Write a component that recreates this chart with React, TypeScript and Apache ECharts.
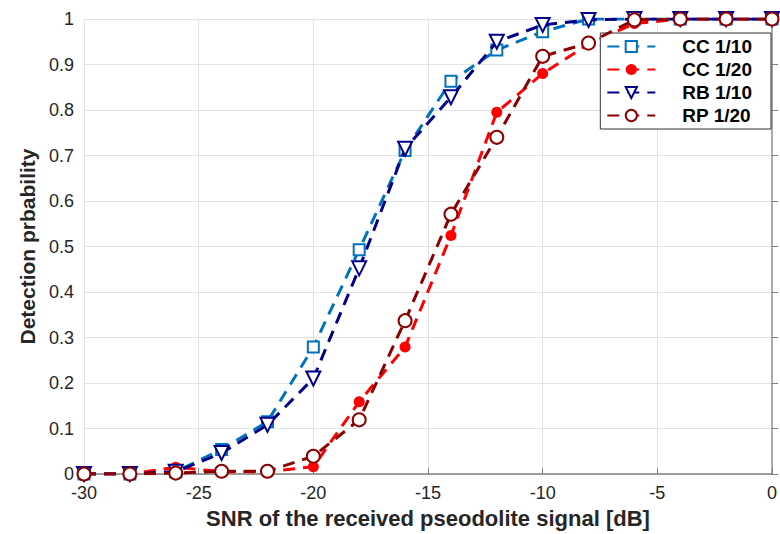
import React, { useEffect, useRef } from "react";
import * as echarts from "echarts";

const snr = [-30, -28, -26, -24, -22, -20, -18, -16, -14, -12, -10, -8, -6, -4, -2, 0];
const cc10 = [0, 0, 0.005, 0.054, 0.115, 0.279, 0.493, 0.711, 0.863, 0.932, 0.972, 1, 1, 1, 1, 1];
const cc20 = [0, 0, 0.015, 0.005, 0.005, 0.016, 0.159, 0.279, 0.524, 0.795, 0.88, 0.945, 0.99, 1, 1, 1];
const rb10 = [0, 0, 0.005, 0.046, 0.108, 0.21, 0.452, 0.715, 0.828, 0.95, 0.987, 0.998, 1, 1, 1, 1];
const rp20 = [0, 0, 0.002, 0.006, 0.006, 0.039, 0.119, 0.337, 0.571, 0.74, 0.918, 0.947, 0.998, 1, 1, 1];

const xTicks = [-30, -25, -20, -15, -10, -5, 0];
const yTicks = [0, 0.1, 0.2, 0.3, 0.4, 0.5, 0.6, 0.7, 0.8, 0.9, 1];

const names = ["CC 1/10", "CC 1/20", "RB 1/10", "RP 1/20"];

export default function App() {
  const ref = useRef<HTMLDivElement>(null);
  useEffect(() => {
    document.body.style.margin = "0";
    const chart = echarts.init(ref.current!, undefined, { renderer: "svg" });
    const pair = (arr: number[]) => snr.map((x, i) => [x, arr[i]]);
    const dash = [12, 8];
    const fontFamily = "Liberation Sans, Arial, sans-serif";
    chart.setOption({
      animation: false,
      backgroundColor: "#ffffff",
      grid: { left: 84, right: 5, top: 19, bottom: 56, containLabel: false },
      legend: {
        right: 9,
        top: 33,
        orient: "vertical",
        backgroundColor: "#ffffff",
        borderColor: "#333333",
        borderWidth: 1,
        borderRadius: 0,
        padding: [4, 19, 4, 6],
        itemGap: 4,
        itemWidth: 48,
        itemHeight: 14,
        textStyle: {
          fontFamily,
          fontWeight: "bold",
          fontSize: 19,
          lineHeight: 18,
          color: "#000",
          padding: [0, 0, 0, 22],
        },
        data: names,
      },
      xAxis: {
        type: "value",
        min: -30,
        max: 0,
        interval: 5,
        name: "SNR of the received pseodolite signal [dB]",
        nameLocation: "middle",
        nameGap: 33,
        nameTextStyle: { fontFamily, fontWeight: "bold", fontSize: 22, color: "#262626" },
        axisLine: { show: true, onZero: false, lineStyle: { color: "#808080", width: 1.5 } },
        axisTick: { show: true, inside: true, length: 6, lineStyle: { color: "#808080" } },
        axisLabel: {
          fontFamily,
          fontSize: 18,
          color: "#262626",
          margin: 10,
          customValues: xTicks,
          formatter: (v: number) => String(v),
        },
        splitLine: { show: true, lineStyle: { color: "#e3e3e3", width: 1 } },
      },
      yAxis: [
        {
          type: "value",
          min: 0,
          max: 1,
          interval: 0.1,
          name: "Detection prbability",
          nameLocation: "middle",
          nameGap: 46,
          nameTextStyle: { fontFamily, fontWeight: "bold", fontSize: 21, color: "#262626" },
          axisLine: { show: true, lineStyle: { color: "#808080", width: 1.5 } },
          axisTick: { show: true, inside: true, length: 6, lineStyle: { color: "#808080" } },
          axisLabel: {
            fontFamily,
            fontSize: 18,
            color: "#262626",
            margin: 10,
            formatter: (v: number) => {
              const r = Math.round(v * 10) / 10;
              return yTicks.includes(r) ? String(r) : "";
            },
          },
          splitLine: { show: true, lineStyle: { color: "#e3e3e3", width: 1 } },
        },
        {
          type: "value",
          min: 0,
          max: 1,
          position: "right",
          axisLine: { show: true, lineStyle: { color: "#b0b0b0", width: 1.5 } },
          axisTick: { show: false },
          axisLabel: { show: false },
          splitLine: { show: false },
        },
      ],
      series: [
        {
          name: names[0],
          type: "line",
          data: pair(cc10),
          symbol: "emptyRect",
          symbolSize: 11,
          color: "#0072BD",
          lineStyle: { color: "#0072BD", width: 3, type: dash },
          itemStyle: { color: "#0072BD", borderColor: "#0072BD", borderWidth: 3 },
          z: 2,
        },
        {
          name: names[1],
          type: "line",
          data: pair(cc20),
          symbol: "circle",
          symbolSize: 11,
          color: "#ff0000",
          lineStyle: { color: "#ff0000", width: 3, type: dash },
          itemStyle: { color: "#ff0000" },
          z: 3,
        },
        {
          name: names[2],
          type: "line",
          data: pair(rb10),
          symbol: "emptyTriangle",
          symbolRotate: 180,
          symbolSize: 14,
          color: "#00008B",
          lineStyle: { color: "#00008B", width: 3, type: dash },
          itemStyle: { color: "#00008B", borderColor: "#00008B", borderWidth: 3 },
          z: 4,
        },
        {
          name: names[3],
          type: "line",
          data: pair(rp20),
          symbol: "emptyCircle",
          symbolSize: 13,
          color: "#8B0000",
          lineStyle: { color: "#8B0000", width: 3, type: dash },
          itemStyle: { color: "#8B0000", borderColor: "#8B0000", borderWidth: 3 },
          z: 5,
        },
      ],
    });
    return () => chart.dispose();
  }, []);
  return <div ref={ref} style={{ width: 780, height: 534 }} />;
}
